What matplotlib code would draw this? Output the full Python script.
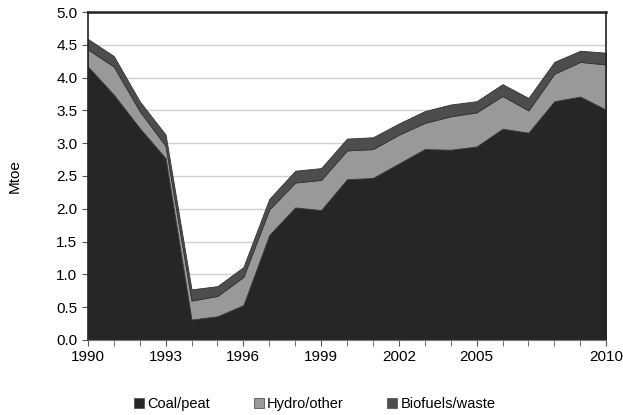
import numpy as np
import matplotlib.pyplot as plt
from matplotlib.patches import Patch

plt.rcParams['font.family'] = ['Liberation Sans', 'DejaVu Sans']

years = np.arange(1990, 2011)
coal = [4.17, 3.74, 3.23, 2.77, 0.31, 0.36, 0.53, 1.60, 2.02, 1.98, 2.45,
        2.47, 2.69, 2.91, 2.90, 2.95, 3.22, 3.16, 3.64, 3.71, 3.51]
hydro_top = [4.43, 4.17, 3.49, 2.96, 0.60, 0.67, 0.96, 1.99, 2.40, 2.44, 2.89,
             2.91, 3.13, 3.31, 3.41, 3.47, 3.72, 3.50, 4.06, 4.24, 4.20]
total = [4.59, 4.33, 3.64, 3.13, 0.77, 0.82, 1.11, 2.15, 2.58, 2.62, 3.07,
         3.09, 3.30, 3.49, 3.59, 3.64, 3.90, 3.69, 4.24, 4.41, 4.38]
labels = ['Coal/peat', 'Hydro/other', 'Biofuels/waste']
colors = ['#262626', '#999999', '#4d4d4d']
xtick_labels = [1990, 1993, 1996, 1999, 2002, 2005, 2010]

hydro = np.array(hydro_top) - np.array(coal)
bio = np.array(total) - np.array(hydro_top)

fig = plt.figure(figsize=(6.23, 4.15), dpi=100)
ax = fig.add_axes([0.141, 0.181, 0.832, 0.790])

ax.stackplot(years, coal, hydro, bio, colors=colors,
             edgecolor='#333333', linewidth=0.6, zorder=2)

ax.set_xlim(1990, 2010)
ax.set_ylim(0, 5)
ax.set_yticks(np.arange(0, 5.01, 0.5))
ax.set_yticklabels([f'{v:.1f}' for v in np.arange(0, 5.01, 0.5)])
ax.set_xticks(years, minor=True)
ax.set_xticks(xtick_labels)
ax.set_xticklabels([str(y) for y in xtick_labels])
ax.tick_params(axis='x', which='both', length=4, direction='out', color='#555555')
ax.tick_params(axis='y', length=4, direction='out', color='#555555')
ax.tick_params(labelsize=11)
ax.grid(axis='y', color='#d0d0d0', linewidth=1, zorder=0)
ax.set_axisbelow(True)

for s in ['left', 'top', 'right']:
    ax.spines[s].set_color('#222222')
    ax.spines[s].set_linewidth(1.2)
ax.spines['bottom'].set_color('#777777')
ax.spines['top'].set_linewidth(1.8)

ax.set_ylabel('Mtoe', fontsize=11)
ax.yaxis.set_label_coords(-0.127, 0.5)

handles = [Patch(facecolor=c, edgecolor='#555555', linewidth=0.6) for c in colors]
fig.legend(handles, labels, loc='center', bbox_to_anchor=(0.505, 0.027), ncol=3,
           frameon=False, fontsize=10.5, handlelength=0.7, handleheight=0.7,
           handletextpad=0.2, columnspacing=3.0)

fig.savefig('out.png', dpi=100)
